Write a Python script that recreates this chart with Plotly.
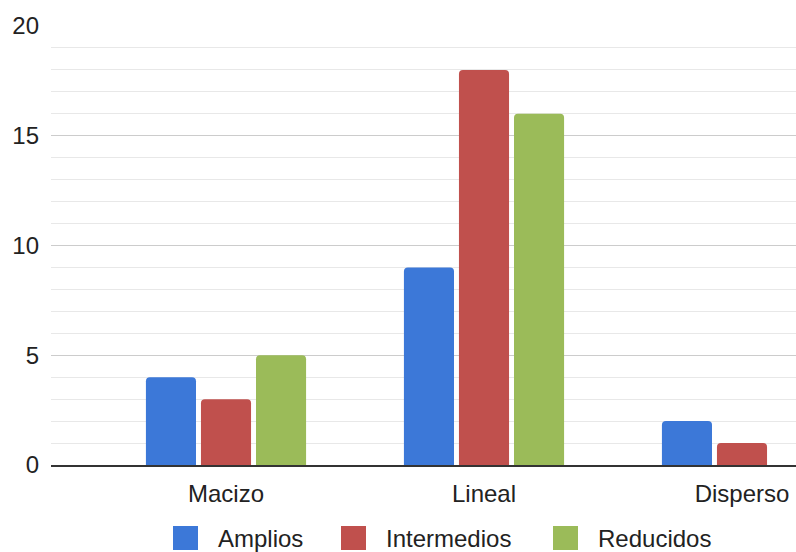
import plotly.graph_objects as go

categories = ["Macizo", "Lineal", "Disperso"]
series_names = ["Amplios", "Intermedios", "Reducidos"]
amplios = [4, 9, 2]
intermedios = [3, 18, 1]
reducidos = [5, 16, 0]
colors = ["#3c78d8", "#c0504d", "#9bbb59"]
y_ticks = [0, 5, 10, 15, 20]

FONT = "Arial, Liberation Sans, sans-serif"
FS = 24

fig = go.Figure()
for name, vals, col in zip(series_names, [amplios, intermedios, reducidos], colors):
    fig.add_trace(go.Bar(
        x=categories, y=vals, name=name,
        marker=dict(color=col, cornerradius=4, line=dict(width=0)),
        showlegend=False,
    ))

W, H = 796, 552
L, R, T, B = 51, 0, 26, 87
pw = W - L - R
ph = H - T - B

def px_x(p):
    return (p - L) / pw

def px_y(p):
    return (H - B - p) / ph

# manual legend with large square swatches
sq_left = [173, 341, 553]
for name, col, xl in zip(series_names, colors, sq_left):
    fig.add_shape(type="rect", xref="paper", yref="paper",
                  x0=px_x(xl), x1=px_x(xl + 25), y0=px_y(550), y1=px_y(526),
                  fillcolor=col, line=dict(width=0), layer="above")
    fig.add_annotation(xref="paper", yref="paper", x=px_x(xl + 43), y=px_y(538),
                       text=name, showarrow=False, xanchor="left", yanchor="middle",
                       font=dict(family=FONT, size=FS, color="#222222"))

band = 258.0
x0 = -175.0 / band
fig.update_layout(
    width=W, height=H,
    margin=dict(l=L, r=R, t=T, b=B, pad=0, autoexpand=False),
    paper_bgcolor="white", plot_bgcolor="white",
    barmode="group", bargap=0.36, bargroupgap=0.09,
    font=dict(family=FONT, size=FS, color="#222222"),
    xaxis=dict(
        range=[x0, x0 + pw / band], automargin=False,
        showgrid=False, showline=True, linecolor="#333333", linewidth=2,
        ticks="", ticklabelstandoff=6, tickfont=dict(size=FS, color="#222222"),
        zeroline=False,
    ),
    yaxis=dict(
        range=[0, 20], tickvals=y_ticks, automargin=False,
        showgrid=True, gridcolor="#cccccc", gridwidth=1,
        minor=dict(dtick=1, showgrid=True, gridcolor="#e8e8e8", gridwidth=1),
        zeroline=False, ticks="", ticklabelstandoff=11,
        tickfont=dict(size=FS, color="#222222"),
    ),
)

fig.write_html("out.html", config={"displayModeBar": False},
               post_script="document.body.style.margin='0';document.body.style.overflow='hidden';")
